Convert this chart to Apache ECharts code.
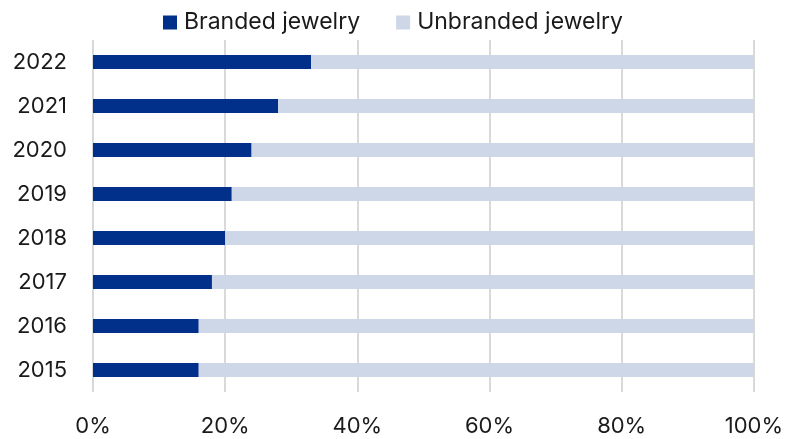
<!DOCTYPE html>
<html>
<head>
<meta charset="utf-8">
<script src="https://cdn.jsdelivr.net/npm/echarts@6/dist/echarts.min.js"></script>
<style>
  html, body { margin: 0; padding: 0; background: #fff; }
  #main { width: 786px; height: 439px; }
</style>
</head>
<body>
<div id="main"></div>
<script>
// 年份（从下到上）
var years = ['2015', '2016', '2017', '2018', '2019', '2020', '2021', '2022'];
// 品牌珠宝占比 %
var branded = [16, 16, 18, 20, 21, 24, 28, 33];
// 非品牌珠宝占比 %
var unbranded = [84, 84, 82, 80, 79, 76, 72, 67];
var xTicks = [0, 20, 40, 60, 80, 100];

var myChart = echarts.init(document.getElementById('main'));

var option = {
    animation: false,
    textStyle: {fontFamily: 'Inter'},
    legend: {
        top: 6,
        left: 'center',
        itemWidth: 14,
        itemHeight: 14,
        itemGap: 36,
        icon: 'rect',
        textStyle: {fontSize: 23, color: '#1a1a1a', fontFamily: 'Inter', padding: [0, 0, 0, 2]},
        data: ['Branded jewelry', 'Unbranded jewelry']
    },
    grid: {
        left: 93,
        right: 30,
        top: 40,
        bottom: 47
    },
    xAxis: {
        type: 'value',
        min: 0,
        max: 100,
        interval: 20,
        axisLine: {show: false},
        axisTick: {show: false},
        axisLabel: {
            fontSize: 22,
            color: '#1a1a1a',
            margin: 23,
            formatter: function (v) {
                return xTicks.indexOf(v) >= 0 ? v + '%' : '';
            }
        },
        splitLine: {lineStyle: {color: '#d9d9d9', width: 2}}
    },
    yAxis: {
        type: 'category',
        data: years,
        axisLine: {show: false},
        axisTick: {show: false},
        axisLabel: {fontSize: 22, color: '#1a1a1a', margin: 26}
    },
    series: [
        {
            name: 'Branded jewelry',
            type: 'bar',
            stack: 'total',
            barWidth: 14,
            itemStyle: {color: '#00308a'},
            data: branded
        },
        {
            name: 'Unbranded jewelry',
            type: 'bar',
            stack: 'total',
            barWidth: 14,
            itemStyle: {color: '#ced7e8'},
            data: unbranded
        }
    ]
};

myChart.setOption(option);
</script>
</body>
</html>
